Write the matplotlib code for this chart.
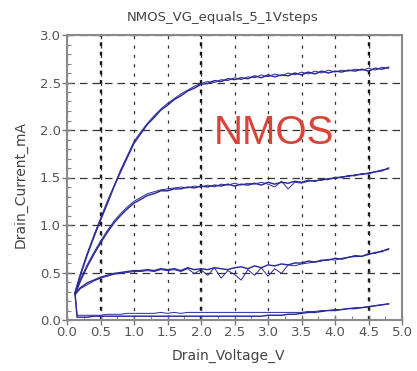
import matplotlib
matplotlib.use("Agg")
import matplotlib.pyplot as plt
from matplotlib.ticker import MultipleLocator

# ---- data ----
title = "NMOS_VG_equals_5_1Vsteps"
xlabel = "Drain_Voltage_V"
ylabel = "Drain_Current_mA"
annotation = "NMOS"

V = [0.12, 0.15, 0.2, 0.3, 0.4, 0.5, 0.6, 0.7, 0.8, 0.9, 1.0, 1.1, 1.2, 1.3, 1.4, 1.5,
     1.6, 1.7, 1.8, 1.9, 2.0, 2.1, 2.2, 2.3, 2.4, 2.5, 2.6, 2.7, 2.8, 2.9, 3.0, 3.1,
     3.2, 3.3, 3.4, 3.5, 3.6, 3.7, 3.8, 3.9, 4.0, 4.1, 4.2, 4.3, 4.4, 4.5, 4.6, 4.7, 4.8]

c1_a = [0.28, 0.35, 0.47, 0.68, 0.87, 1.05, 1.22, 1.40, 1.56, 1.71, 1.86, 1.96, 2.06, 2.13, 2.21, 2.26,
        2.32, 2.36, 2.41, 2.44, 2.48, 2.49, 2.52, 2.51, 2.54, 2.53, 2.55, 2.54, 2.57, 2.55, 2.58, 2.56,
        2.58, 2.57, 2.60, 2.58, 2.61, 2.59, 2.62, 2.60, 2.62, 2.61, 2.63, 2.62, 2.64, 2.62, 2.65, 2.64, 2.66]
c1_b = [0.30, 0.37, 0.49, 0.70, 0.89, 1.07, 1.25, 1.41, 1.58, 1.73, 1.88, 1.98, 2.07, 2.15, 2.22, 2.28,
        2.33, 2.38, 2.42, 2.46, 2.49, 2.51, 2.50, 2.53, 2.52, 2.55, 2.53, 2.56, 2.55, 2.58, 2.56, 2.59,
        2.57, 2.60, 2.58, 2.61, 2.59, 2.62, 2.60, 2.63, 2.61, 2.63, 2.62, 2.64, 2.63, 2.65, 2.63, 2.66, 2.65]

c2_a = [0.28, 0.32, 0.41, 0.56, 0.69, 0.81, 0.92, 1.02, 1.10, 1.17, 1.23, 1.27, 1.31, 1.33, 1.36, 1.36,
        1.38, 1.38, 1.40, 1.39, 1.41, 1.40, 1.42, 1.41, 1.43, 1.41, 1.43, 1.42, 1.44, 1.42, 1.45, 1.43,
        1.45, 1.44, 1.46, 1.45, 1.47, 1.46, 1.48, 1.48, 1.50, 1.50, 1.52, 1.52, 1.54, 1.54, 1.56, 1.57, 1.60]
c2_b = [0.29, 0.34, 0.43, 0.58, 0.71, 0.83, 0.94, 1.04, 1.12, 1.19, 1.25, 1.29, 1.33, 1.35, 1.37, 1.38,
        1.39, 1.40, 1.39, 1.41, 1.40, 1.42, 1.40, 1.43, 1.42, 1.44, 1.42, 1.44, 1.43, 1.45, 1.43, 1.40,
        1.46, 1.38, 1.45, 1.44, 1.46, 1.47, 1.47, 1.49, 1.49, 1.51, 1.51, 1.53, 1.53, 1.55, 1.56, 1.58, 1.59]

c3_a = [0.27, 0.30, 0.34, 0.39, 0.42, 0.45, 0.47, 0.49, 0.50, 0.51, 0.52, 0.52, 0.53, 0.52, 0.54, 0.53,
        0.54, 0.52, 0.55, 0.53, 0.54, 0.53, 0.55, 0.54, 0.53, 0.55, 0.56, 0.54, 0.57, 0.55, 0.58, 0.57,
        0.59, 0.58, 0.60, 0.60, 0.62, 0.61, 0.63, 0.63, 0.65, 0.64, 0.66, 0.67, 0.67, 0.69, 0.71, 0.72, 0.75]
c3_b = [0.26, 0.29, 0.33, 0.37, 0.41, 0.44, 0.46, 0.48, 0.49, 0.50, 0.51, 0.51, 0.52, 0.51, 0.53, 0.52,
        0.53, 0.51, 0.54, 0.49, 0.53, 0.47, 0.55, 0.44, 0.52, 0.48, 0.42, 0.53, 0.47, 0.55, 0.46, 0.54,
        0.49, 0.58, 0.57, 0.59, 0.60, 0.61, 0.62, 0.64, 0.63, 0.65, 0.66, 0.68, 0.67, 0.70, 0.70, 0.73, 0.74]

c4_a = [0.28, 0.03, 0.03, 0.03, 0.04, 0.04, 0.04, 0.04, 0.04, 0.04, 0.04, 0.04, 0.04, 0.04, 0.04, 0.04,
        0.04, 0.04, 0.04, 0.04, 0.04, 0.04, 0.04, 0.04, 0.04, 0.04, 0.04, 0.04, 0.04, 0.04, 0.05, 0.05,
        0.05, 0.06, 0.06, 0.07, 0.08, 0.08, 0.09, 0.10, 0.10, 0.11, 0.12, 0.12, 0.13, 0.14, 0.15, 0.16, 0.17]
c4_b = [0.28, 0.05, 0.05, 0.05, 0.05, 0.05, 0.06, 0.06, 0.06, 0.07, 0.07, 0.07, 0.07, 0.07, 0.08, 0.07,
        0.08, 0.07, 0.08, 0.08, 0.08, 0.08, 0.08, 0.08, 0.08, 0.08, 0.08, 0.08, 0.08, 0.08, 0.08, 0.08,
        0.08, 0.08, 0.08, 0.08, 0.09, 0.09, 0.10, 0.10, 0.11, 0.11, 0.12, 0.13, 0.13, 0.14, 0.15, 0.16, 0.17]

sweeps_thick = [c1_a, c2_a, c3_a, c4_a]
sweeps_thin = [c1_b, c2_b, c3_b, c4_b]

x_ticks = [0.0, 0.5, 1.0, 1.5, 2.0, 2.5, 3.0, 3.5, 4.0, 4.5, 5.0]
y_ticks = [0.0, 0.5, 1.0, 1.5, 2.0, 2.5, 3.0]
emph_x = [0.5, 2.0, 4.5]

# ---- figure ----
fig = plt.figure(figsize=(4.17, 3.71), dpi=100)
ax = fig.add_axes([67/417, 51/371, 335/417, 285/371])

line_color = "#2b2b96"
for ys in sweeps_thin:
    ax.plot(V, ys, color=line_color, lw=0.7, zorder=3)
for ys in sweeps_thick:
    ax.plot(V, ys, color=line_color, lw=1.05, zorder=3)

ax.set_xlim(0, 5.0)
ax.set_ylim(0, 3.0)
ax.set_xticks(x_ticks)
ax.set_yticks(y_ticks)
ax.set_xticklabels([f"{t:.1f}" for t in x_ticks])
ax.set_yticklabels([f"{t:.1f}" for t in y_ticks])
ax.xaxis.set_minor_locator(MultipleLocator(0.25))
ax.yaxis.set_minor_locator(MultipleLocator(0.1))

ax.grid(axis='y', which='major', color='#333333', lw=0.9, linestyle=(0, (6, 4)), zorder=1)
ax.grid(axis='x', which='major', color='#333333', lw=0.9, linestyle=(0, (2.5, 5)), zorder=1)
for xv in emph_x:
    ax.axvline(xv, color='#111111', lw=1.7, linestyle=(0, (1.6, 2.4)), zorder=1)

ax.tick_params(which='major', direction='inout', length=7, width=1.0, color='#777777',
               labelsize=9.5, labelcolor='#555555', pad=1)
ax.tick_params(which='minor', direction='in', length=3, width=0.8, color='#888888')

for s in ax.spines.values():
    s.set_color('#8a8a8a')
    s.set_linewidth(1.5)

ax.text(3.09, 1.97, annotation, color='#d8443a', fontsize=29, family='Liberation Sans',
        ha='center', va='center', zorder=4)

fig.text(223/417, 1 - 17/371, title, ha='center', va='center', fontsize=9.5, color='#444444')
fig.text(228/417, 1 - 356/371, xlabel, ha='center', va='center', fontsize=10, color='#444444')
fig.text(21/417, 1 - 185/371, ylabel, ha='center', va='center', fontsize=10, color='#444444',
         rotation=90)

fig.savefig("out.png", dpi=100)
